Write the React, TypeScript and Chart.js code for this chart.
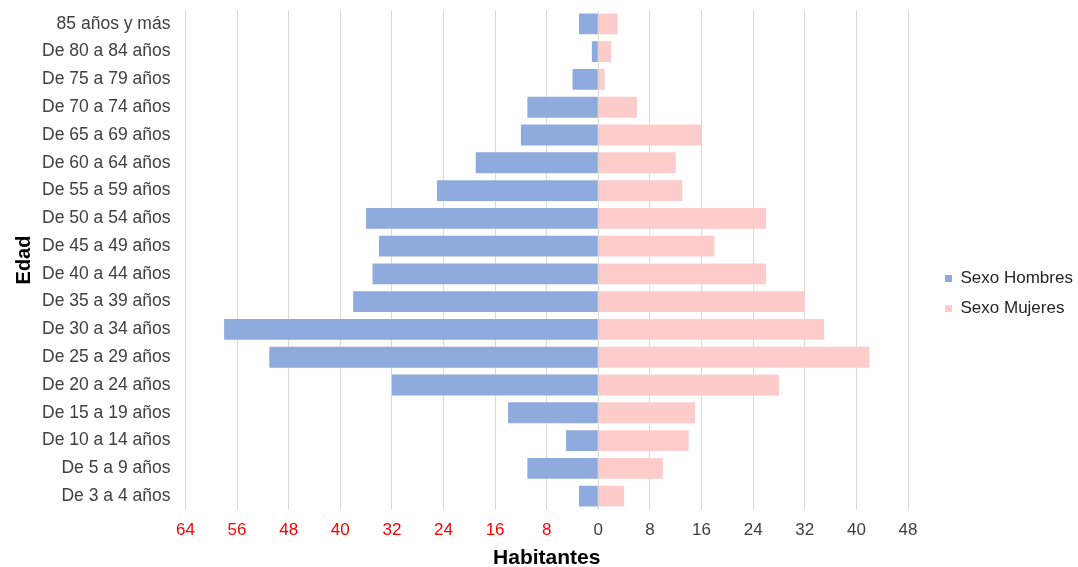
import React, { useEffect, useRef } from "react";
import { Chart, registerables } from "chart.js";

Chart.register(...registerables);

const categorias = [
  "85 años y más",
  "De 80 a 84 años",
  "De 75 a 79 años",
  "De 70 a 74 años",
  "De 65 a 69 años",
  "De 60 a 64 años",
  "De 55 a 59 años",
  "De 50 a 54 años",
  "De 45 a 49 años",
  "De 40 a 44 años",
  "De 35 a 39 años",
  "De 30 a 34 años",
  "De 25 a 29 años",
  "De 20 a 24 años",
  "De 15 a 19 años",
  "De 10 a 14 años",
  "De 5 a 9 años",
  "De 3 a 4 años",
];

// Hombres shown to the left (negative values)
const hombres = [-3, -1, -4, -11, -12, -19, -25, -36, -34, -35, -38, -58, -51, -32, -14, -5, -11, -3];
const mujeres = [3, 2, 1, 6, 16, 12, 13, 26, 18, 26, 32, 35, 42, 28, 15, 14, 10, 4];

const xMin = -64;
const xMax = 48;
const xStep = 8;

const FONT = "'Liberation Sans', Arial, sans-serif";

// legend layout: total width reserved at right, gap to plot, vertical nudge
const LEGEND_WIDTH = 170;
const LEGEND_GAP = 37;
const LEGEND_DY = 10;

const legendLayout = {
  id: "legendLayout",
  beforeUpdate(chart: any) {
    const lg = chart.legend;
    if (lg && !lg.__wrapped) {
      const orig = lg.fit.bind(lg);
      lg.fit = function () {
        orig();
        this.width = LEGEND_WIDTH;
      };
      lg.__wrapped = true;
    }
  },
  afterLayout(chart: any) {
    const lg = chart.legend;
    if (!lg) return;
    const pad = lg.options.labels.padding;
    const w = lg.width;
    lg.left = chart.chartArea.right + LEGEND_GAP - pad;
    lg.right = lg.left + w;
    lg.top += LEGEND_DY;
    lg.bottom += LEGEND_DY;
  },
};

export default function App() {
  const ref = useRef<HTMLCanvasElement | null>(null);

  useEffect(() => {
    if (!ref.current) return;
    const chart = new Chart(ref.current, {
      type: "bar",
      data: {
        labels: categorias,
        datasets: [
          {
            label: "Sexo Hombres",
            data: hombres,
            backgroundColor: "#8FAADC",
            borderWidth: 0,
            categoryPercentage: 1,
            barPercentage: 0.75,
          },
          {
            label: "Sexo Mujeres",
            data: mujeres,
            backgroundColor: "#FFCCCC",
            borderWidth: 0,
            categoryPercentage: 1,
            barPercentage: 0.75,
          },
        ],
      },
      plugins: [legendLayout],
      options: {
        indexAxis: "y",
        animation: false,
        responsive: true,
        maintainAspectRatio: false,
        layout: { padding: { top: 0, right: 0, bottom: 0, left: 0 } },
        plugins: {
          tooltip: { enabled: false },
          legend: {
            position: "right",
            labels: {
              boxWidth: 7,
              boxHeight: 7,
              padding: 13,
              color: "#262626",
              font: { family: FONT, size: 17 },
            },
          },
        },
        scales: {
          x: {
            stacked: true,
            min: xMin,
            max: xMax,
            afterFit: (scale: any) => {
              scale.height = 57;
            },
            ticks: {
              stepSize: xStep,
              padding: 10,
              color: (ctx: any) => (ctx.tick && ctx.tick.value < 0 ? "#FF0000" : "#404040"),
              font: { family: FONT, size: 17 },
              callback: (v: any) => String(Math.abs(Number(v))),
            },
            grid: { color: "#D9D9D9", lineWidth: 1, drawTicks: false },
            border: { display: false },
            title: {
              display: true,
              text: "Habitantes",
              color: "#000000",
              font: { family: FONT, size: 21, weight: "bold", lineHeight: 1.1 },
              padding: { top: 4, bottom: -3 },
            },
          },
          y: {
            stacked: true,
            afterFit: (scale: any) => {
              scale.paddingTop = 10;
              scale.paddingBottom = 0;
            },
            ticks: {
              color: "#404040",
              font: { family: FONT, size: 17.5 },
              padding: 15,
              autoSkip: false,
            },
            grid: { display: false, drawTicks: false },
            border: { display: false },
            title: {
              display: true,
              text: "Edad",
              color: "#000000",
              font: { family: FONT, size: 20, weight: "bold" },
              padding: { top: 12, bottom: -9 },
            },
          },
        },
      },
    });
    return () => chart.destroy();
  }, []);

  return (
    <div style={{ position: "absolute", left: 0, top: 0, width: 1078, height: 567, background: "#fff" }}>
      <canvas ref={ref} />
    </div>
  );
}
